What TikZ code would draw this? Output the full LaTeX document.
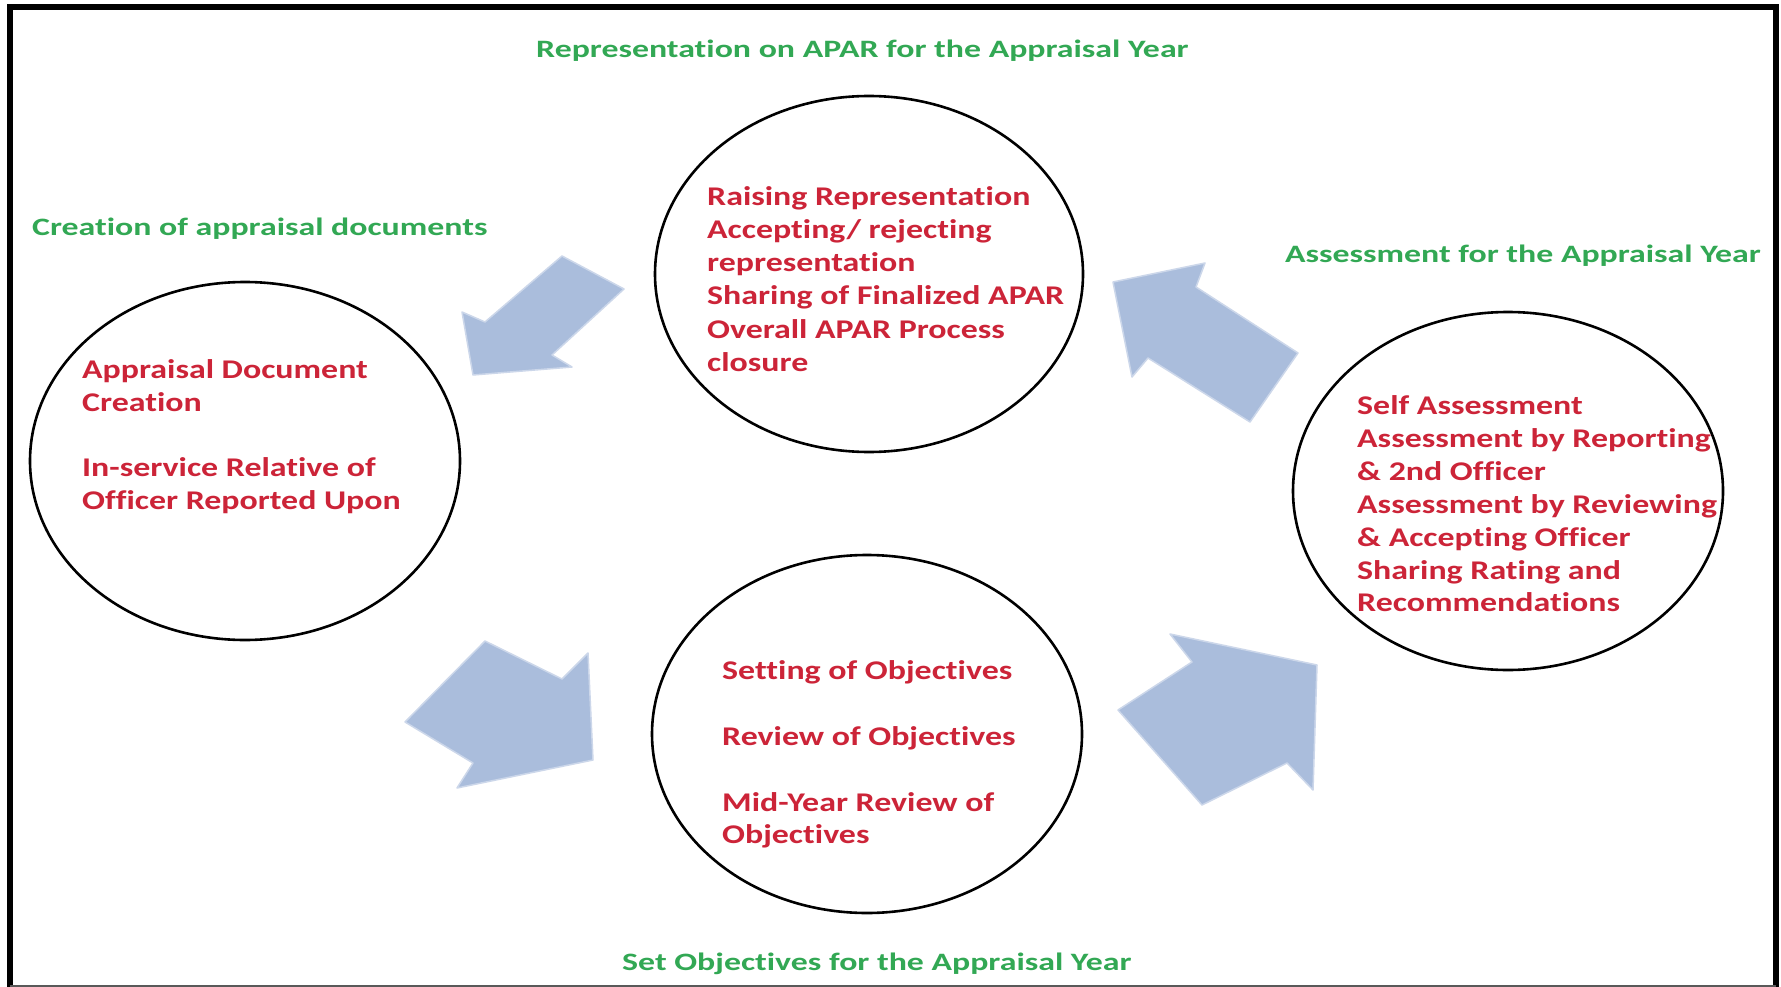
\documentclass[tikz,border=0pt]{standalone}
\usepackage{fontspec}
\setmainfont{Carlito}
\newfontfamily\itemface[FakeStretch=1.255,Ligatures=NoCommon]{Carlito}
\newfontfamily\phaseface[FakeStretch=1.353,Ligatures=NoCommon]{Carlito}
\usetikzlibrary{shapes.geometric}
\definecolor{stagered}{RGB}{204,36,56}
\definecolor{phasegreen}{RGB}{50,168,84}
\definecolor{flowblue}{RGB}{170,189,220}
\begin{document}
\begin{tikzpicture}[x=1pt,y=-1pt,
  stage/.style={draw=black,line width=2.6pt,ellipse,inner sep=0pt},
  item/.style={anchor=base west,inner sep=0pt,text=stagered,
    font=\itemface\fontsize{27}{33}\selectfont\bfseries},
  phase/.style={anchor=base west,inner sep=0pt,text=phasegreen,
    font=\phaseface\fontsize{25}{30}\selectfont\bfseries},
  flow/.style={fill=flowblue,draw=flowblue!60!white,line width=1.5pt,line join=round}]
\useasboundingbox (0,0) rectangle (1781,987);
\fill[white] (0,0) rectangle (1781,987);

% outer frame (open at the bottom edge)
\draw[line width=6pt] (10,990) -- (10,7) -- (1776,7) -- (1776,990);
\draw[gray!70!black,line width=1.2pt] (10,986) -- (1776,986);

% flow arrows between the stages
\fill[flow] (562,256) -- (624,289) -- (552,355) -- (572,367) -- (473,375)
  -- (462,312) -- (485,322) -- cycle;
\fill[flow] (1113,282) -- (1205,263) -- (1196,287) -- (1298,353) -- (1250,422)
  -- (1148,358) -- (1132,377) -- cycle;
\fill[flow] (405,722) -- (485,641) -- (562,679) -- (588,653) -- (593,760)
  -- (457,788) -- (473,763) -- cycle;
\fill[flow] (1118,710) -- (1192,662) -- (1170,634) -- (1317,665) -- (1313,790)
  -- (1287,763) -- (1202,805) -- cycle;

% stages
\node[stage,minimum width=428pt,minimum height=356pt] (rep) at (869,274) {};
\node[stage,minimum width=430pt,minimum height=358pt] (create) at (245,461) {};
\node[stage,minimum width=430pt,minimum height=358pt] (obj) at (867,734) {};
\node[stage,minimum width=430pt,minimum height=358pt] (assess) at (1508,491) {};

% phase titles
\node[phase] (lrep) at (536,58) {Representation on APAR for the Appraisal Year};
\node[phase] (lcreate) at (32,236) {Creation of appraisal documents};
\node[phase] (lassess) at (1285,262) {Assessment for the Appraisal Year};
\node[phase] (lobj) at (622,970) {Set Objectives for the Appraisal Year};

% representation stage
\node[item] (r1) at (707,206) {Raising Representation};
\node[item] (r2) at (707,239) {Accepting/ rejecting};
\node[item] (r3) at (707,272) {representation};
\node[item] (r4) at (707,305) {Sharing of Finalized APAR};
\node[item] (r5) at (707,338) {Overall APAR Process};
\node[item] (r6) at (707,371) {closure};

% document creation stage
\node[item] (c1) at (82,378) {Appraisal Document};
\node[item] (c2) at (82,411) {Creation};
\node[item] (c3) at (82,476) {In-service Relative of};
\node[item] (c4) at (82,509) {Officer Reported Upon};

% objectives stage
\node[item] (o1) at (722,679) {Setting of Objectives};
\node[item] (o2) at (722,745) {Review of Objectives};
\node[item] (o3) at (722,811) {Mid-Year Review of};
\node[item] (o4) at (722,843) {Objectives};

% assessment stage
\node[item] (a1) at (1357,414) {Self Assessment};
\node[item] (a2) at (1357,447) {Assessment by Reporting};
\node[item] (a3) at (1357,480) {\& 2nd Officer};
\node[item] (a4) at (1357,513) {Assessment by Reviewing};
\node[item] (a5) at (1357,546) {\& Accepting Officer};
\node[item] (a6) at (1357,579) {Sharing Rating and};
\node[item] (a7) at (1357,611) {Recommendations};
\end{tikzpicture}
\end{document}
